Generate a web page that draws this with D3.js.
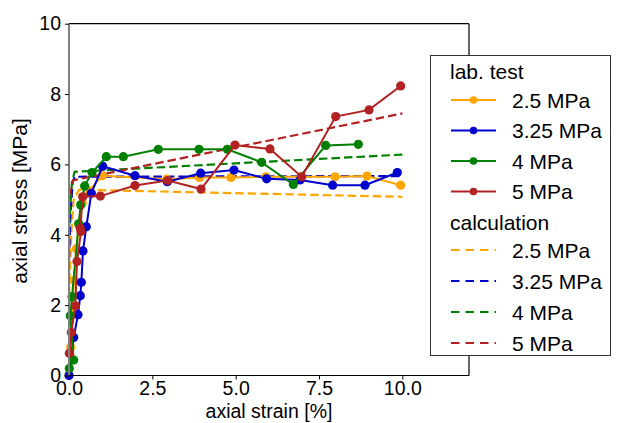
<!DOCTYPE html>
<html lang="en">
<head>
    <meta charset="UTF-8">
    <title>axial stress vs strain</title>
    <script src="https://d3js.org/d3.v7.min.js"></script>
    <style>
        body { margin: 0; background: white; }
        text { font-family: "Liberation Sans", Arial, sans-serif; fill: black; }
    </style>
</head>
<body>
<svg height="423" width="617"></svg>

<script>
    const labels = ["2.5 MPa", "3.25 MPa", "4 MPa", "5 MPa"];
    const colors = ["#ffa500", "#0000cd", "#008000", "#b22222"];
    const xTicks = [0, 2.5, 5, 7.5, 10];
    const yTicks = [0, 2, 4, 6, 8, 10];

    // lab test [strain %, stress MPa]
    const lab25 = [[0, 0], [0.05, 0.8], [0.1, 1.8], [0.15, 2.7], [0.22, 3.6], [0.3, 4.3], [0.4, 4.9], [0.6, 5.25],
        [1.0, 5.68], [2.93, 5.58], [3.91, 5.63], [4.86, 5.63], [5.91, 5.65], [6.96, 5.65], [7.98, 5.65],
        [8.94, 5.67], [9.95, 5.41]];
    const lab325 = [[0, 0], [0.14, 1.08], [0.27, 1.73], [0.34, 2.27], [0.37, 2.65], [0.42, 3.54], [0.52, 4.23],
        [0.67, 5.18], [1.01, 5.95], [1.98, 5.68], [2.95, 5.51], [3.95, 5.75], [4.95, 5.84], [5.93, 5.59],
        [6.93, 5.56], [7.91, 5.41], [8.88, 5.41], [9.85, 5.77]];
    const lab4 = [[0.01, 0.2], [0.14, 0.44], [0.04, 1.7], [0.09, 2.24], [0.29, 4.31], [0.35, 4.85], [0.47, 5.39],
        [0.69, 5.77], [1.12, 6.22], [1.63, 6.22], [2.68, 6.43], [3.9, 6.43], [4.75, 6.43], [5.78, 6.06],
        [6.73, 5.43], [7.7, 6.54], [8.68, 6.57]];
    const lab5 = [[0.01, 0.63], [0.07, 1.22], [0.19, 1.98], [0.24, 3.24], [0.36, 4.09], [0.34, 4.18], [0.41, 5.08],
        [0.94, 5.1], [1.98, 5.4], [2.96, 5.54], [3.96, 5.3], [4.98, 6.55], [6.03, 6.44], [6.98, 5.65],
        [8.0, 7.36], [9.0, 7.55], [9.95, 8.23]];

    // calculation
    const calc25 = [[0, 2.3], [0.07, 4.04], [0.14, 4.99], [0.3, 5.28], [10, 5.08]];
    const calc325 = [[0, 3.28], [0.04, 4.5], [0.11, 5.5], [0.17, 5.65], [10, 5.67]];
    const calc4 = [[0, 4.23], [0.09, 5.51], [0.17, 5.79], [10, 6.28]];
    const calc5 = [[0, 5.1], [0.13, 5.55], [10, 7.45]];

    const labData = [lab25, lab325, lab4, lab5];
    const calcData = [calc25, calc325, calc4, calc5];

    const svg = d3.select("svg");
    const x = d3.scaleLinear().domain([0, 12]).range([69, 469]);
    const y = d3.scaleLinear().domain([0, 10]).range([375.5, 23.7]);
    const line = d3.line().x(d => x(d[0])).y(d => y(d[1]));

    // calculation curves
    calcData.forEach(function(d, i) {
        svg.append("path")
            .datum(d)
            .attr("d", line)
            .attr("fill", "none")
            .attr("stroke", colors[i])
            .attr("stroke-width", 2.2)
            .attr("stroke-dasharray", "8.5,4");
    });

    // lab test curves
    labData.forEach(function(d, i) {
        const g = svg.append("g");
        g.append("path")
            .datum(d)
            .attr("d", line)
            .attr("fill", "none")
            .attr("stroke", colors[i])
            .attr("stroke-width", 2);
        g.selectAll("circle")
            .data(d)
            .enter()
            .append("circle")
            .attr("cx", p => x(p[0]))
            .attr("cy", p => y(p[1]))
            .attr("r", 4.6)
            .attr("fill", colors[i]);
    });

    // spines
    svg.append("line").attr("x1", 69).attr("x2", 469).attr("y1", 23.7).attr("y2", 23.7)
        .attr("stroke", "black").attr("stroke-width", 1.2);
    svg.append("line").attr("x1", 469).attr("x2", 469).attr("y1", 23.7).attr("y2", 375.5)
        .attr("stroke", "black").attr("stroke-width", 1.2);
    svg.append("line").attr("x1", 69).attr("x2", 469).attr("y1", 375.5).attr("y2", 375.5)
        .attr("stroke", "black").attr("stroke-width", 1.2);
    svg.append("line").attr("x1", 69).attr("x2", 69).attr("y1", 23.7).attr("y2", 375.5)
        .attr("stroke", "#808080").attr("stroke-width", 2);

    // axes
    const xAxis = svg.append("g")
        .attr("transform", "translate(0,375.5)")
        .call(d3.axisBottom(x).tickValues(xTicks).tickFormat(d3.format(".1f")).tickSize(4).tickPadding(2));
    const yAxis = svg.append("g")
        .attr("transform", "translate(69,0)")
        .call(d3.axisLeft(y).tickValues(yTicks).tickSize(4).tickPadding(4));
    [xAxis, yAxis].forEach(function(a) {
        a.select(".domain").remove();
        a.selectAll("line").attr("stroke", "black").attr("stroke-width", 1);
        a.selectAll("text").attr("font-size", 19.5).attr("font-family", "Liberation Sans, Arial, sans-serif");
    });

    svg.append("text")
        .attr("x", 269).attr("y", 418)
        .attr("text-anchor", "middle")
        .attr("font-size", 19.5)
        .text("axial strain [%]");
    svg.append("text")
        .attr("transform", "translate(27,201) rotate(-90)")
        .attr("text-anchor", "middle")
        .attr("font-size", 21)
        .text("axial stress [MPa]");

    // legend
    const legend = svg.append("g");
    legend.append("rect")
        .attr("x", 430.5).attr("y", 55.5).attr("width", 180).attr("height", 300)
        .attr("fill", "white").attr("stroke", "#333").attr("stroke-width", 1);
    legend.append("text").attr("x", 450).attr("y", 79).attr("font-size", 21).text("lab. test");
    legend.append("text").attr("x", 450).attr("y", 230).attr("font-size", 21).text("calculation");
    labels.forEach(function(l, i) {
        const ly = 100 + i * 30.5;
        legend.append("line").attr("x1", 451).attr("x2", 496).attr("y1", ly).attr("y2", ly)
            .attr("stroke", colors[i]).attr("stroke-width", 2);
        legend.append("circle").attr("cx", 473.5).attr("cy", ly).attr("r", 3.8).attr("fill", colors[i]);
        legend.append("text").attr("x", 512).attr("y", ly + 7.5).attr("font-size", 21).text(l);

        const cy = 250 + i * 31;
        legend.append("line").attr("x1", 451).attr("x2", 496).attr("y1", cy).attr("y2", cy)
            .attr("stroke", colors[i]).attr("stroke-width", 2.2).attr("stroke-dasharray", "8.5,6");
        legend.append("text").attr("x", 512).attr("y", cy + 7.5).attr("font-size", 21).text(l);
    });
</script>

</body>
</html>
